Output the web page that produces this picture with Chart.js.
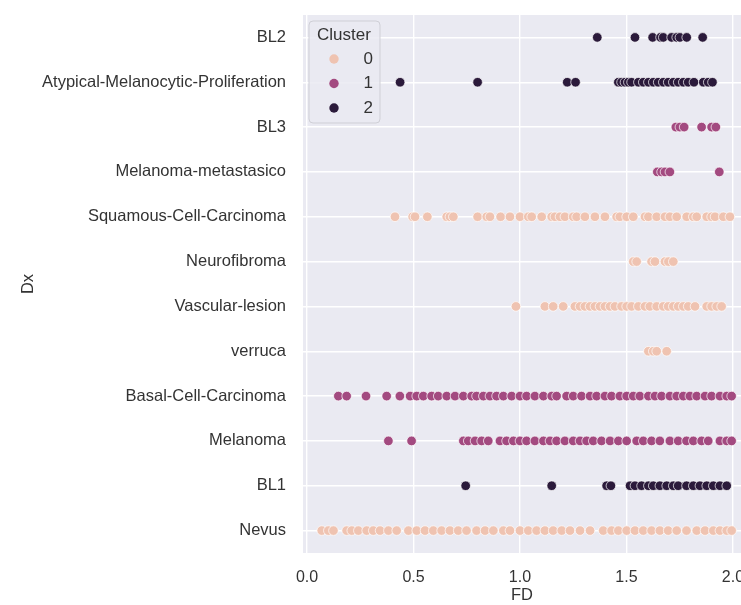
<!DOCTYPE html>
<html>
<head>
<meta charset="utf-8">
<script src="https://cdn.jsdelivr.net/npm/chart.js@4"></script>
<style>
html, body { margin: 0; padding: 0; background: #fff; }
</style>
</head>
<body>
<canvas id="chart" width="741" height="605"></canvas>
<script>
// categories from top to bottom
var categories = ["BL2", "Atypical-Melanocytic-Proliferation", "BL3", "Melanoma-metastasico",
  "Squamous-Cell-Carcinoma", "Neurofibroma", "Vascular-lesion", "verruca",
  "Basal-Cell-Carcinoma", "Melanoma", "BL1", "Nevus"];
var rowCluster = [2, 2, 1, 1, 0, 0, 0, 0, 1, 1, 2, 0];
var clusterLabels = ["0", "1", "2"];
var clusterColors = ["#efc3b1", "#a34a80", "#2b1a3b"];
var xTicks = [0, 0.5, 1.0, 1.5, 2.0];

// FD values per Dx row
var bl2 = [1.363, 1.54, 1.623, 1.66, 1.673, 1.712, 1.736, 1.751, 1.783, 1.858];
var atypical = [0.437, 0.801, 1.222, 1.261, 1.462, 1.477, 1.493, 1.509, 1.524, 1.556, 1.579, 1.603,
  1.626, 1.649, 1.673, 1.696, 1.72, 1.743, 1.767, 1.79, 1.817, 1.861, 1.884, 1.904];
var bl3 = [1.732, 1.751, 1.771, 1.853, 1.9, 1.92];
var melMeta = [1.645, 1.665, 1.681, 1.704, 1.936];
var squamous = [0.413, 0.496, 0.507, 0.565, 0.656, 0.671, 0.687, 0.801, 0.844, 0.859, 0.909, 0.953,
  1.0, 1.039, 1.055, 1.102, 1.149, 1.164, 1.188, 1.211, 1.25, 1.266, 1.305, 1.352, 1.399, 1.454,
  1.469, 1.501, 1.532, 1.587, 1.603, 1.642, 1.681, 1.704, 1.736, 1.783, 1.814, 1.83, 1.877, 1.9,
  1.916, 1.955, 1.986];
var neurofibroma = [1.532, 1.548, 1.618, 1.634, 1.681, 1.697, 1.72];
var vascular = [0.981, 1.117, 1.156, 1.203, 1.258, 1.282, 1.305, 1.329, 1.352, 1.376, 1.399, 1.423,
  1.446, 1.477, 1.501, 1.524, 1.556, 1.587, 1.61, 1.642, 1.673, 1.696, 1.72, 1.743, 1.767, 1.79,
  1.822, 1.877, 1.9, 1.924, 1.947];
var verruca = [1.603, 1.626, 1.642, 1.689];
var basal = [0.147, 0.186, 0.277, 0.374, 0.436, 0.484, 0.515, 0.546, 0.585, 0.616, 0.656, 0.695,
  0.734, 0.773, 0.796, 0.828, 0.859, 0.89, 0.922, 0.961, 1.0, 1.031, 1.07, 1.11, 1.149, 1.172,
  1.219, 1.25, 1.289, 1.329, 1.36, 1.399, 1.43, 1.469, 1.501, 1.532, 1.563, 1.603, 1.634, 1.665,
  1.704, 1.736, 1.767, 1.798, 1.83, 1.869, 1.9, 1.939, 1.971, 1.994];
var melanoma = [0.382, 0.491, 0.734, 0.757, 0.789, 0.82, 0.851, 0.906, 0.937, 0.969, 1.0, 1.031,
  1.07, 1.11, 1.141, 1.172, 1.211, 1.25, 1.282, 1.313, 1.344, 1.383, 1.423, 1.462, 1.501, 1.548,
  1.579, 1.618, 1.657, 1.704, 1.743, 1.782, 1.814, 1.853, 1.884, 1.939, 1.971, 1.994];
var bl1 = [0.745, 1.149, 1.407, 1.427, 1.517, 1.54, 1.571, 1.603, 1.626, 1.657, 1.689, 1.72, 1.743,
  1.782, 1.814, 1.845, 1.877, 1.908, 1.939, 1.971];
var nevus = [0.069, 0.1, 0.124, 0.186, 0.21, 0.241, 0.28, 0.311, 0.343, 0.382, 0.421, 0.476, 0.515,
  0.554, 0.593, 0.632, 0.671, 0.71, 0.749, 0.796, 0.836, 0.875, 0.922, 0.953, 1.0, 1.039, 1.078,
  1.117, 1.156, 1.196, 1.235, 1.282, 1.329, 1.391, 1.43, 1.462, 1.501, 1.54, 1.579, 1.618, 1.657,
  1.696, 1.736, 1.782, 1.83, 1.869, 1.908, 1.939, 1.971, 1.994];

var rows = [bl2, atypical, bl3, melMeta, squamous, neurofibroma, vascular, verruca, basal, melanoma, bl1, nevus];

var textColor = "#333333";
var fontFamily = "'Liberation Sans', Arial, sans-serif";
Chart.defaults.font.family = fontFamily;

// one dataset per cluster
var datasets = [];
for (let c = 0; c < clusterLabels.length; c++) {
  var pts = [];
  for (let r = 0; r < rows.length; r++) {
    if (rowCluster[r] !== c) continue;
    for (let k = 0; k < rows[r].length; k++) {
      pts.push({ x: rows[r][k], y: r });
    }
  }
  datasets.push({
    label: clusterLabels[c],
    data: pts,
    backgroundColor: clusterColors[c],
    borderColor: "#ffffff",
    borderWidth: 0.7,
    pointRadius: 4.8,
    pointHoverRadius: 4.8
  });
}

// no extra room for overhanging tick labels
function noPad(scale) {
  scale.paddingLeft = 0;
  scale.paddingRight = 0;
  scale.paddingTop = 0;
  scale.paddingBottom = 0;
}

// grey plot background
var plotBg = {
  id: "plotBg",
  beforeDraw: function (chart) {
    var a = chart.chartArea;
    var ctx = chart.ctx;
    ctx.save();
    ctx.fillStyle = "#eaeaf2";
    ctx.fillRect(a.left, a.top, a.right - a.left, a.bottom - a.top);
    ctx.restore();
  }
};

// seaborn-style legend in the upper left of the plot
var innerLegend = {
  id: "innerLegend",
  afterDraw: function (chart) {
    var ctx = chart.ctx;
    var a = chart.chartArea;
    var x0 = a.left + 6, y0 = a.top + 6, w = 71, h = 102;
    ctx.save();
    ctx.fillStyle = "rgba(234,234,242,0.85)";
    ctx.strokeStyle = "#cfcfd6";
    ctx.lineWidth = 1;
    ctx.beginPath();
    ctx.roundRect(x0, y0, w, h, 4);
    ctx.fill();
    ctx.stroke();
    ctx.fillStyle = textColor;
    ctx.font = "17px " + fontFamily;
    ctx.textBaseline = "middle";
    ctx.textAlign = "left";
    ctx.fillText("Cluster", x0 + 8, y0 + 14);
    ctx.textAlign = "right";
    chart.data.datasets.forEach(function (ds, i) {
      var cy = y0 + 38 + i * 24.5;
      ctx.beginPath();
      ctx.arc(x0 + 25, cy, 4.7, 0, Math.PI * 2);
      ctx.fillStyle = ds.backgroundColor;
      ctx.fill();
      ctx.fillStyle = textColor;
      ctx.fillText(ds.label, x0 + 64, cy);
    });
    ctx.restore();
  }
};

new Chart(document.getElementById("chart"), {
  type: "scatter",
  data: { datasets: datasets },
  options: {
    responsive: false,
    animation: false,
    layout: { autoPadding: false, padding: { top: 15, right: 0, left: 0, bottom: 0 } },
    plugins: { legend: { display: false }, tooltip: { enabled: false } },
    scales: {
      x: {
        type: "linear",
        min: -0.019,
        max: 2.038,
        afterFit: function (scale) { scale.height = 52; noPad(scale); },
        afterBuildTicks: function (scale) {
          scale.ticks = xTicks.map(function (v) { return { value: v }; });
        },
        ticks: {
          color: textColor,
          font: { size: 16 },
          padding: 15,
          maxRotation: 0,
          callback: function (v) { return Number(v).toFixed(1); }
        },
        grid: { color: "#ffffff", lineWidth: 1.4, drawTicks: false },
        border: { display: false },
        title: { display: true, text: "FD", color: textColor, font: { size: 16.5 }, padding: { top: 0, bottom: 0 } }
      },
      y: {
        type: "linear",
        reverse: true,
        min: -0.5,
        max: 11.5,
        afterFit: function (scale) { scale.width = 303; noPad(scale); },
        afterBuildTicks: function (scale) {
          scale.ticks = categories.map(function (_, i) { return { value: i }; });
        },
        ticks: {
          color: textColor,
          font: { size: 16.5 },
          padding: 17,
          autoSkip: false,
          callback: function (v) { return categories[v]; }
        },
        grid: { color: "#ffffff", lineWidth: 1.4, drawTicks: false },
        border: { display: false },
        title: { display: true, text: "Dx", color: textColor, font: { size: 16.5 }, padding: { top: 19, bottom: 0 } }
      }
    }
  },
  plugins: [plotBg, innerLegend]
});
</script>
</body>
</html>
